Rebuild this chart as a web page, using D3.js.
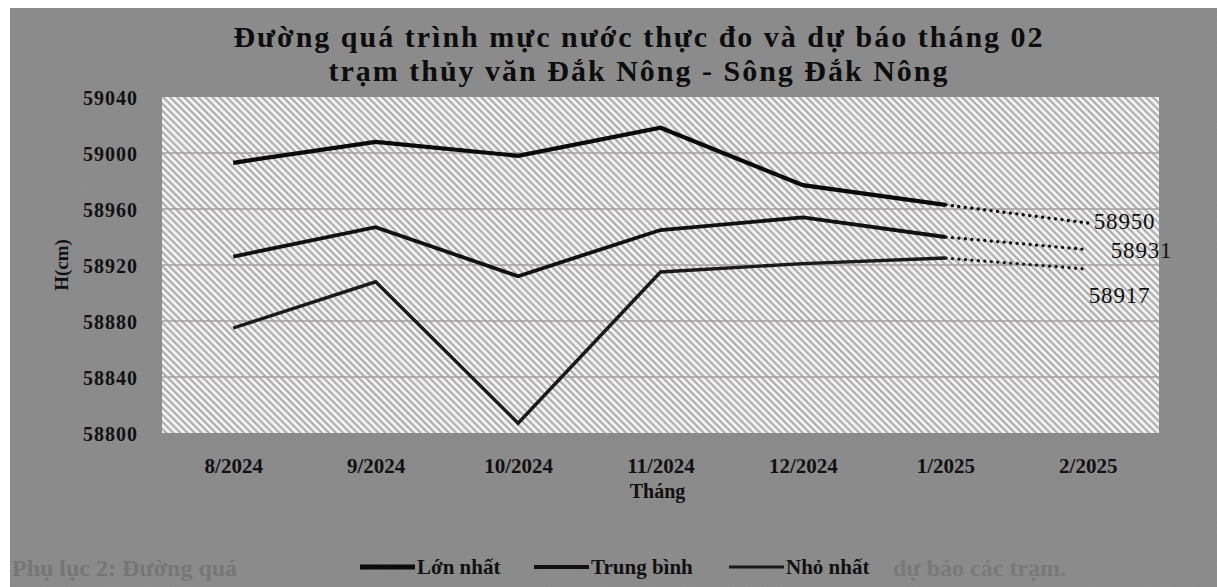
<!DOCTYPE html>
<html>
<head>
<meta charset="utf-8">
<script src="https://cdn.jsdelivr.net/npm/d3@7"></script>
<style>
  html, body { margin: 0; padding: 0; background: #ffffff; }
  svg { display: block; }
</style>
</head>
<body>
<script>
// ---- Data ----
const categories = ["8/2024", "9/2024", "10/2024", "11/2024", "12/2024", "1/2025", "2/2025"];
const seriesNames = ["Lớn nhất", "Trung bình", "Nhỏ nhất"];
const lonNhat = [58993, 59008, 58998, 59018, 58977, 58963, 58950];
const trungBinh = [58926, 58947, 58912, 58945, 58954, 58940, 58931];
const nhoNhat = [58875, 58908, 58807, 58915, 58921, 58925, 58917];
const yTicks = [58800, 58840, 58880, 58920, 58960, 59000, 59040];
const forecastIndex = 6; // last category is the forecast
const titleLines = ["Đường quá trình mực nước thực đo và dự báo tháng 02", "trạm thủy văn Đắk Nông - Sông Đắk Nông"];
const xTitle = "Tháng";
const yTitle = "H(cm)";
const ghostLeft = "Phụ lục 2: Đường quá";
const ghostRight = "dự báo các trạm.";

// ---- Layout ----
const W = 1217, H = 587;
const plot = { left: 162, right: 1159, top: 97, bottom: 433 };
const serif = "'Liberation Serif', 'DejaVu Serif', serif";

const svg = d3.select("body").append("svg").attr("width", W).attr("height", H);
const defs = svg.append("defs");

// paper noise
const f = defs.append("filter").attr("id", "noise").attr("x", 0).attr("y", 0).attr("width", "100%").attr("height", "100%");
f.append("feTurbulence").attr("type", "fractalNoise").attr("baseFrequency", 0.9).attr("numOctaves", 2).attr("seed", 3).attr("result", "n");
f.append("feColorMatrix").attr("type", "matrix")
  .attr("values", "0 0 0 0 0.35  0 0 0 0 0.35  0 0 0 0 0.35  0 0 0 0.9 -0.3");

// hatch pattern
const pat = defs.append("pattern").attr("id", "hatch").attr("patternUnits", "userSpaceOnUse")
  .attr("width", 5).attr("height", 5).attr("patternTransform", "rotate(-45)");
pat.append("rect").attr("width", 5).attr("height", 5).attr("fill", "#f6f6f6");
pat.append("line").attr("x1", 1.5).attr("y1", 0).attr("x2", 1.5).attr("y2", 5)
  .attr("stroke", "#9e9e9e").attr("stroke-width", 1.9);

// page background
svg.append("rect").attr("x", 0).attr("y", 0).attr("width", W).attr("height", H).attr("fill", "#ffffff");
svg.append("rect").attr("x", 10).attr("y", 8).attr("width", W - 10).attr("height", H - 8).attr("fill", "#8a8a8a");
svg.append("rect").attr("x", 10).attr("y", 8).attr("width", W - 10).attr("height", H - 8).attr("filter", "url(#noise)").attr("opacity", 0.35);

// ghost text bleeding through the scan (visible fragments)
svg.append("text").attr("x", 12).attr("y", 576).attr("font-family", serif).attr("font-weight", "bold")
  .attr("font-size", 24).attr("fill", "#767676").text(ghostLeft);
svg.append("text").attr("x", 893).attr("y", 576).attr("font-family", serif).attr("font-weight", "bold")
  .attr("font-size", 24).attr("fill", "#797979").text(ghostRight);

// scales
const x = d3.scalePoint().domain(categories).range([plot.left, plot.right]).padding(0.5);
const y = d3.scaleLinear().domain([58800, 59040]).range([plot.bottom, plot.top]);

// plot area
svg.append("rect").attr("x", plot.left).attr("y", plot.top)
  .attr("width", plot.right - plot.left).attr("height", plot.bottom - plot.top)
  .attr("fill", "url(#hatch)");

// grid
svg.append("g").selectAll("line").data(yTicks.slice(1, -1)).join("line")
  .attr("x1", plot.left).attr("x2", plot.right)
  .attr("y1", d => y(d)).attr("y2", d => y(d))
  .attr("stroke", "#a59ea0").attr("stroke-width", 1.5);

// y axis labels
const yAxis = d3.axisLeft(y).tickValues(yTicks).tickSize(0).tickPadding(0).tickFormat(d3.format("d"));
const yg = svg.append("g").attr("transform", `translate(${plot.left - 24},0)`).call(yAxis);
yg.select(".domain").remove();
yg.selectAll("text").attr("font-family", serif).attr("font-weight", "bold").attr("font-size", 20)
  .attr("fill", "#111").attr("letter-spacing", 1).attr("dy", "0.35em");

// x axis labels
const xAxis = d3.axisBottom(x).tickSize(0).tickPadding(0);
const xg = svg.append("g").attr("transform", `translate(0,${plot.bottom + 40})`).call(xAxis);
xg.select(".domain").remove();
xg.selectAll("text").attr("font-family", serif).attr("font-weight", "bold").attr("font-size", 21)
  .attr("fill", "#111").attr("dy", 0);

// axis titles
svg.append("text").attr("x", (plot.left + plot.right) / 2 - 3).attr("y", 498).attr("text-anchor", "middle")
  .attr("font-family", serif).attr("font-weight", "bold").attr("font-size", 20).attr("fill", "#111").text(xTitle);
svg.append("text").attr("transform", `translate(68,${(plot.top + plot.bottom) / 2}) rotate(-90)`)
  .attr("text-anchor", "middle").attr("font-family", serif).attr("font-weight", "bold")
  .attr("font-size", 19).attr("fill", "#111").text(yTitle);

// title
svg.append("g").selectAll("text").data(titleLines).join("text")
  .attr("x", 639).attr("y", (d, i) => 47 + i * 34).attr("text-anchor", "middle")
  .attr("font-family", serif).attr("font-weight", "bold").attr("font-size", 30)
  .attr("letter-spacing", 2).attr("fill", "#0d0d0d").text(d => d);

// series
const seriesValues = [lonNhat, trungBinh, nhoNhat];
const widths = [4.2, 3.8, 3.4];
const colors = ["#0b0b0b", "#111111", "#1a1a1a"];
const labelOffsets = [[6, 6], [23, 8], [1, 34]];
const line = d3.line().x(d => x(d.c)).y(d => y(d.v));

seriesValues.forEach((vals, si) => {
  const pts = vals.map((v, i) => ({ c: categories[i], v }));
  const observed = pts.slice(0, forecastIndex);
  const forecast = pts.slice(forecastIndex - 1);
  svg.append("path").datum(observed).attr("d", line).attr("fill", "none")
    .attr("stroke", colors[si]).attr("stroke-width", widths[si])
    .attr("stroke-linejoin", "miter").attr("stroke-linecap", "butt");
  svg.append("path").datum(forecast).attr("d", line).attr("fill", "none")
    .attr("stroke", colors[si]).attr("stroke-width", 3.3)
    .attr("stroke-dasharray", "0.1 6.4").attr("stroke-linecap", "round")
    .attr("stroke-dashoffset", -7);
  const last = pts[forecastIndex];
  svg.append("text").attr("x", x(last.c) + labelOffsets[si][0]).attr("y", y(last.v) + labelOffsets[si][1])
    .attr("font-family", serif).attr("font-size", 23).attr("letter-spacing", 0.8).attr("fill", "#111")
    .text(last.v);
});

// legend
const legendItems = [
  { name: seriesNames[0], x: 360, w: 5 },
  { name: seriesNames[1], x: 534, w: 4 },
  { name: seriesNames[2], x: 729, w: 3.2 }
];
const lg = svg.append("g").attr("transform", "translate(0,567)");
legendItems.forEach((it, i) => {
  lg.append("line").attr("x1", it.x).attr("x2", it.x + 55).attr("y1", 0).attr("y2", 0)
    .attr("stroke", colors[i]).attr("stroke-width", it.w);
  lg.append("text").attr("x", it.x + 57).attr("y", 7).attr("font-family", serif)
    .attr("font-weight", "bold").attr("font-size", 21).attr("fill", "#111").text(it.name);
});
</script>
</body>
</html>
